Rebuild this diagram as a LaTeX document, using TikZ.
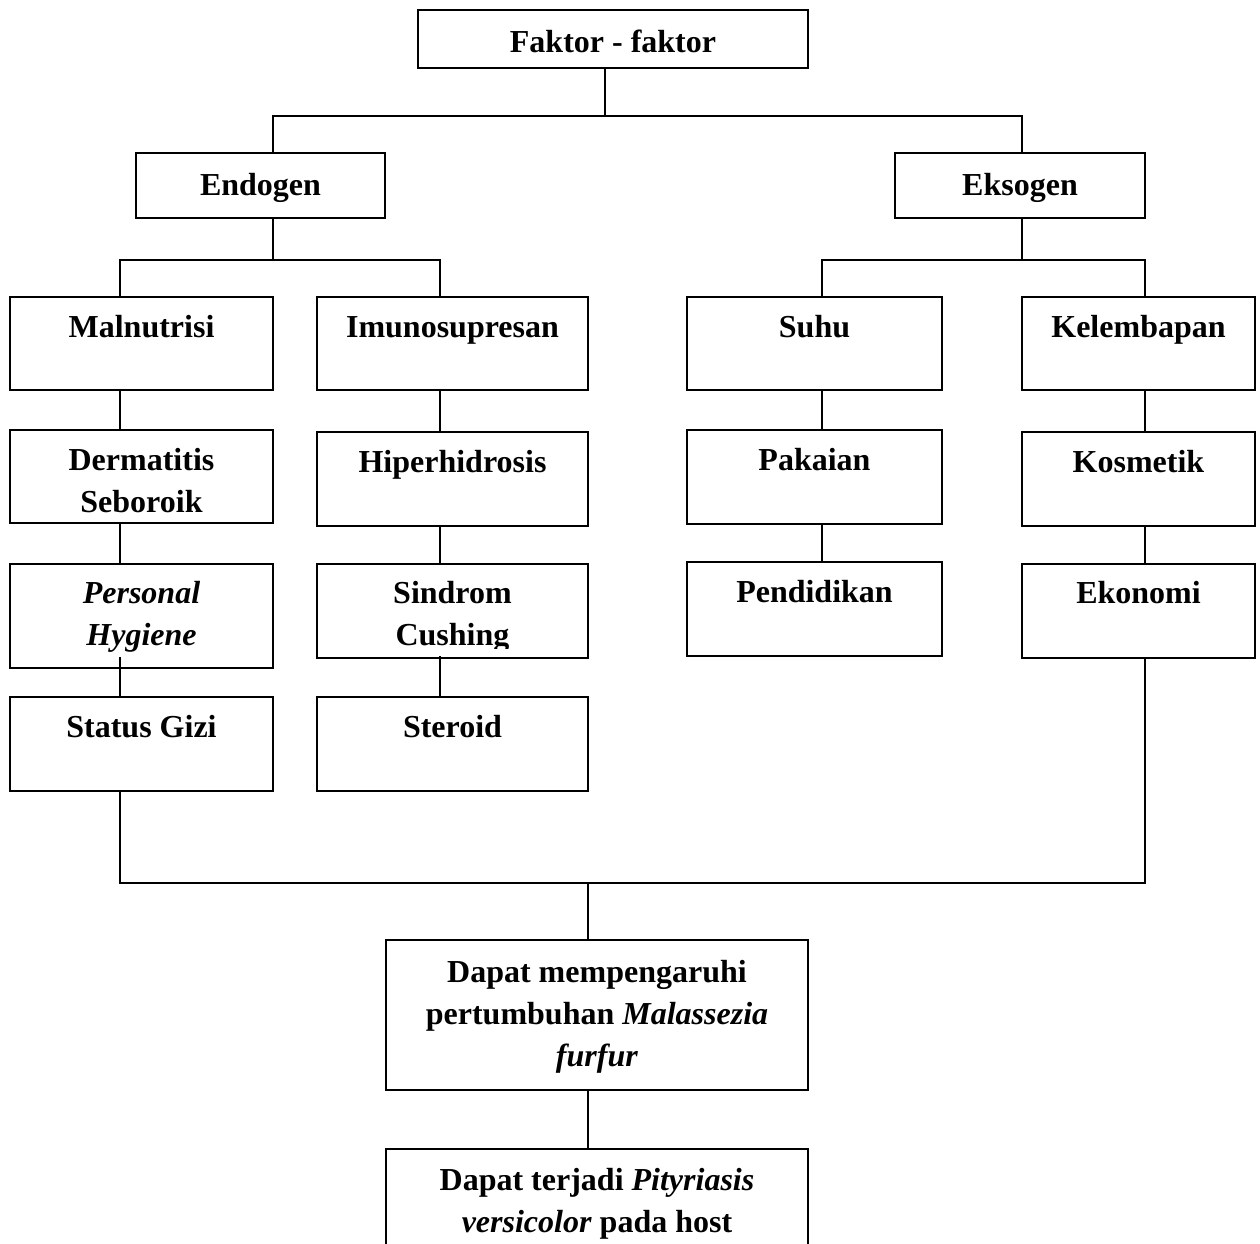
\documentclass[tikz,border=0pt]{standalone}
\usepackage{fontspec}
\setmainfont{Liberation Serif}
\newcommand\mybox[5]{\node[bx, minimum width={(#4-#2)*0.75pt}, minimum height={(#5-#3)*0.75pt}] (#1) at ({(#2+#4)/2},{(#3+#5)/2}) {};}
\newcommand\tl[1]{\begin{tabular}[t]{@{}c@{}}#1\end{tabular}}
\begin{document}
\begin{tikzpicture}[x=0.75pt,y=-0.75pt,
  bx/.style={draw, line width=1.4pt, inner sep=0pt, rectangle},
  tx/.style={inner sep=0pt, anchor=base, font=\fontsize{24}{31.5}\selectfont\bfseries},
  ln/.style={line width=1.1pt}]
\useasboundingbox[fill=white] (0,0) rectangle (1260,1243);
% boxes
\mybox{fak}{418}{10}{808}{68}
\mybox{endo}{136}{153}{385}{218}
\mybox{eks}{895}{153}{1145}{218}
\mybox{mal}{10}{297}{273}{390}
\mybox{imu}{317}{297}{588}{390}
\mybox{suh}{687}{297}{942}{390}
\mybox{kel}{1022}{297}{1255}{390}
\mybox{der}{10}{430}{273}{523}
\mybox{hip}{317}{432}{588}{526}
\mybox{pak}{687}{430}{942}{524}
\mybox{kos}{1022}{432}{1255}{526}
\mybox{per}{10}{564}{273}{668}
\mybox{sin}{317}{564}{588}{658}
\mybox{pen}{687}{562}{942}{656}
\mybox{eko}{1022}{564}{1255}{658}
\mybox{gizi}{10}{697}{273}{791}
\mybox{ste}{317}{697}{588}{791}
\mybox{mem}{386}{940}{808}{1090}
\mybox{vers}{386}{1149}{808}{1300}
% texts
\node[tx] (fakT) at (613,52) {Faktor - faktor};
\node[tx] (endoT) at (260.5,195) {Endogen};
\node[tx] (eksT) at (1020,195) {Eksogen};
\node[tx] (malT) at (141.5,337) {Malnutrisi};
\node[tx] (imuT) at (452.5,337) {Imunosupresan};
\node[tx] (suhT) at (814.5,337) {Suhu};
\node[tx] (kelT) at (1138.5,337) {Kelembapan};
\node[tx] (derT) at (141.5,470) {\tl{Dermatitis\\Seboroik}};
\node[tx] (hipT) at (452.5,472) {Hiperhidrosis};
\node[tx] (pakT) at (814.5,470) {Pakaian};
\node[tx] (kosT) at (1138.5,472) {Kosmetik};
\node[tx] (perT) at (141.5,603) {\tl{\textit{Personal}\\\textit{Hygiene}}};
\begin{scope}
\clip (317,560) rectangle (588,648);
\node[tx] (sinT) at (452.5,603) {\tl{Sindrom\\Cushing}};
\end{scope}
\node[tx] (penT) at (814.5,602) {Pendidikan};
\node[tx] (ekoT) at (1138.5,603) {Ekonomi};
\node[tx] (giziT) at (141.5,737) {Status Gizi};
\node[tx] (steT) at (452.5,737) {Steroid};
\node[tx] (memT) at (597,982) {\tl{Dapat mempengaruhi\\pertumbuhan \textit{Malassezia}\\\textit{furfur}}};
\node[tx] (versT) at (597,1190) {\tl{Dapat terjadi \textit{Pityriasis}\\\textit{versicolor} pada host}};
% connector coordinates
\coordinate (xF) at (605,0);
\coordinate (xE) at (273,0);
\coordinate (xK) at (1022,0);
\coordinate (cA) at (120,0);
\coordinate (cB) at (440,0);
\coordinate (cC) at (822,0);
\coordinate (cD) at (1145,0);
\coordinate (xM) at (588,0);
\coordinate (yB1) at (0,116);
\coordinate (yB2) at (0,260);
\coordinate (yB3) at (0,883);
\coordinate (perIn) at (120,657);
\coordinate (sinIn) at (440,656);
% connectors
\draw[ln] (fak.south -| xF) -- (xF |- yB1);
\draw[ln] (endo.north -| xE) -- (xE |- yB1) -- (xK |- yB1) -- (eks.north -| xK);
\draw[ln] (endo.south -| xE) -- (xE |- yB2);
\draw[ln] (mal.north -| cA) -- (cA |- yB2) -- (cB |- yB2) -- (imu.north -| cB);
\draw[ln] (eks.south -| xK) -- (xK |- yB2);
\draw[ln] (suh.north -| cC) -- (cC |- yB2) -- (cD |- yB2) -- (kel.north -| cD);
\draw[ln] (mal.south -| cA) -- (der.north -| cA);
\draw[ln] (der.south -| cA) -- (per.north -| cA);
\draw[ln] (gizi.north -| cA) -- (perIn);
\draw[ln] (imu.south -| cB) -- (hip.north -| cB);
\draw[ln] (hip.south -| cB) -- (sin.north -| cB);
\draw[ln] (ste.north -| cB) -- (sinIn);
\draw[ln] (suh.south -| cC) -- (pak.north -| cC);
\draw[ln] (pak.south -| cC) -- (pen.north -| cC);
\draw[ln] (kel.south -| cD) -- (kos.north -| cD);
\draw[ln] (kos.south -| cD) -- (eko.north -| cD);
\draw[ln] (gizi.south -| cA) -- (cA |- yB3) -- (cD |- yB3) -- (eko.south -| cD);
\draw[ln] (xM |- yB3) -- (mem.north -| xM);
\draw[ln] (mem.south -| xM) -- (vers.north -| xM);
\end{tikzpicture}
\end{document}
